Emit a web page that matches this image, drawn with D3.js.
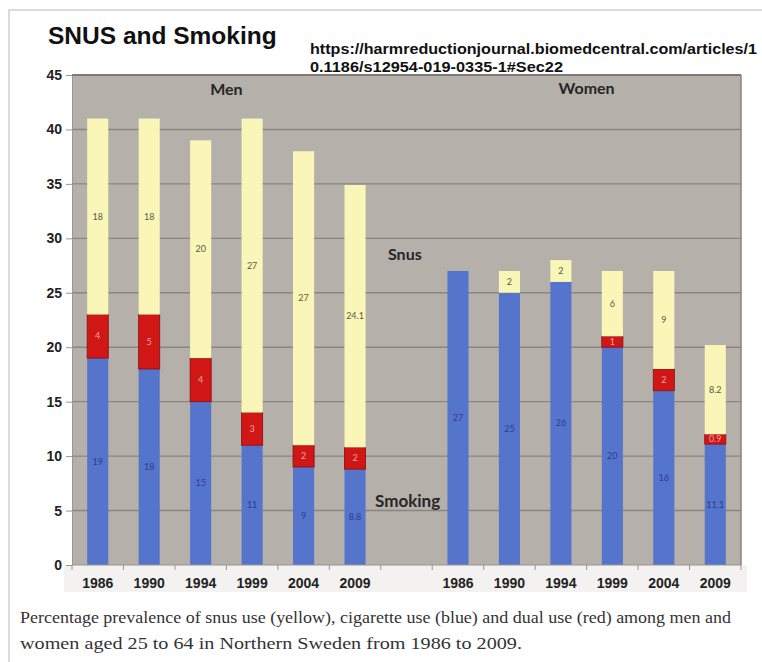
<!DOCTYPE html>
<html>
<head>
<meta charset="utf-8">
<script src="https://cdn.jsdelivr.net/npm/d3@7/dist/d3.min.js"></script>
<style>
  html, body { margin: 0; padding: 0; background: #ffffff; }
  svg { display: block; }
</style>
</head>
<body>
<svg id="chart" width="762" height="662"></svg>
<script>
// Survey years and population groups
const years = ["1986", "1990", "1994", "1999", "2004", "2009"];
const groups = ["Men", "Women"];

// Prevalence (%) per year: cigarette only, dual use, snus only
const menSmoking = [19, 18, 15, 11, 9, 8.8];
const menDual    = [4, 5, 4, 3, 2, 2];
const menSnus    = [18, 18, 20, 27, 27, 24.1];

const womenSmoking = [27, 25, 26, 20, 16, 11.1];
const womenDual    = [0, 0, 0, 1, 2, 0.9];
const womenSnus    = [0, 2, 2, 6, 9, 8.2];

const yTicks = [0, 5, 10, 15, 20, 25, 30, 35, 40, 45];

const seriesKeys = ["smoking", "dual", "snus"];
const fills  = { smoking: "#5575cc", dual: "#d11616", snus: "#f9f6b8" };
const labelColors = { smoking: "#2c3c8c", dual: "#f3a3a3", snus: "#5a5a44" };

// Build rows: men years, an empty spacer slot, women years
const rows = [];
years.forEach((yr, i) => rows.push({ key: "M" + yr, year: yr, smoking: menSmoking[i], dual: menDual[i], snus: menSnus[i] }));
rows.push({ key: "gap", year: "", smoking: 0, dual: 0, snus: 0 });
years.forEach((yr, i) => rows.push({ key: "W" + yr, year: yr, smoking: womenSmoking[i], dual: womenDual[i], snus: womenSnus[i] }));

const svg = d3.select("#chart");
const plotLeft = 72, plotRight = 741, plotTop = 75, plotBottom = 565;

const x = d3.scaleBand().domain(rows.map(d => d.key)).range([plotLeft, plotRight])
  .paddingInner(0.59).paddingOuter(0.295);
const y = d3.scaleLinear().domain([0, 45]).range([plotBottom, plotTop]);

// Page frame
svg.append("path").attr("d", "M9,662 V10 H762")
  .attr("fill", "none").attr("stroke", "#dcdcdc").attr("stroke-width", 2);

// Light band under the category axis
svg.append("rect").attr("x", plotLeft - 8).attr("y", plotBottom).attr("width", plotRight - plotLeft + 14).attr("height", 27)
  .attr("fill", "#f3f2f1");

// Plot background
svg.append("rect").attr("x", plotLeft).attr("y", plotTop).attr("width", plotRight - plotLeft).attr("height", plotBottom - plotTop)
  .attr("fill", "#b5b0aa");

// Gridlines
svg.append("g").selectAll("line").data(yTicks.filter(t => t > 0)).join("line")
  .attr("x1", plotLeft).attr("x2", plotRight)
  .attr("y1", d => y(d)).attr("y2", d => y(d))
  .attr("stroke", d => d === 45 ? "#7d7975" : "#8a8580").attr("stroke-width", d => d === 45 ? 2 : 1.4);

// Right border
svg.append("line").attr("x1", plotRight).attr("x2", plotRight).attr("y1", plotTop).attr("y2", plotBottom)
  .attr("stroke", "#8a8580").attr("stroke-width", 1.5);

// Stacked bars
const stacked = d3.stack().keys(seriesKeys)(rows);
const layer = svg.append("g").selectAll("g").data(stacked).join("g")
  .attr("fill", d => fills[d.key]);

layer.selectAll("rect").data(d => d.map(p => ({ p, key: d.key })).filter(o => o.p[1] - o.p[0] > 0 && o.p.data.key !== "gap"))
  .join("rect")
  .attr("x", o => x(o.p.data.key))
  .attr("width", x.bandwidth())
  .attr("y", o => y(o.p[1]))
  .attr("height", o => y(o.p[0]) - y(o.p[1]))
  .attr("stroke", o => o.key === "dual" ? "#8a0d0d" : "none")
  .attr("stroke-width", o => o.key === "dual" ? 0.8 : 0);

// Segment value labels
const valLabels = svg.append("g")
  .attr("font-family", "Lato, 'Open Sans', sans-serif")
  .attr("font-size", 9).attr("text-anchor", "middle");
stacked.forEach(s => {
  s.forEach(p => {
    const v = p[1] - p[0];
    if (v <= 0 || p.data.key === "gap") return;
    valLabels.append("text")
      .attr("x", x(p.data.key) + x.bandwidth() / 2)
      .attr("y", y((p[0] + p[1]) / 2) + 3)
      .attr("fill", labelColors[s.key])
      .text(p.data[s.key]);
  });
});

// Y axis
const yAxis = d3.axisLeft(y).tickValues(yTicks).tickSize(6).tickPadding(4);
const yg = svg.append("g").attr("transform", `translate(${plotLeft},0)`).call(yAxis);
yg.select(".domain").attr("stroke", "#9a9691");
yg.selectAll(".tick line").attr("stroke", "#9a9691");
yg.selectAll(".tick text")
  .attr("font-family", "'Liberation Sans', Arial, sans-serif")
  .attr("font-weight", "bold").attr("font-size", 14).attr("fill", "#222");

// X axis with boundary ticks
const xg = svg.append("g");
xg.append("line").attr("x1", plotLeft).attr("x2", plotRight).attr("y1", plotBottom).attr("y2", plotBottom)
  .attr("stroke", "#9a9691").attr("stroke-width", 1);
const step = x.step();
xg.selectAll("line.b").data(d3.range(rows.length + 1)).join("line").attr("class", "b")
  .attr("x1", i => plotLeft + i * step).attr("x2", i => plotLeft + i * step)
  .attr("y1", plotBottom).attr("y2", plotBottom + 5)
  .attr("stroke", "#9a9691");
xg.selectAll("text").data(rows.filter(d => d.key !== "gap")).join("text")
  .attr("x", d => x(d.key) + x.bandwidth() / 2)
  .attr("y", plotBottom + 23)
  .attr("text-anchor", "middle")
  .attr("font-family", "'Liberation Sans', Arial, sans-serif")
  .attr("font-weight", "bold").attr("font-size", 14).attr("fill", "#222")
  .text(d => d.year);

// Group and series annotations
const ann = svg.append("g")
  .attr("font-family", "Lato, 'Open Sans', sans-serif")
  .attr("font-weight", "bold").attr("fill", "#262626");
const menMid = (x("M1986") + x("M2009") + x.bandwidth()) / 2;
const womenMid = (x("W1986") + x("W2009") + x.bandwidth()) / 2;
ann.append("text").attr("x", menMid).attr("y", 95).attr("text-anchor", "middle").attr("font-size", 16).text(groups[0]);
ann.append("text").attr("x", womenMid).attr("y", 94).attr("text-anchor", "middle").attr("font-size", 16).text(groups[1]);
ann.append("text").attr("x", 388).attr("y", 260).attr("font-size", 16).text("Snus");
ann.append("text").attr("x", 375).attr("y", 507).attr("font-size", 17).text("Smoking");

// Title and source link
svg.append("text").attr("x", 48).attr("y", 44)
  .attr("font-family", "'Liberation Sans', Arial, sans-serif")
  .attr("font-weight", "bold").attr("font-size", 24.5).attr("fill", "#111")
  .text("SNUS and Smoking");
const url = svg.append("g")
  .attr("font-family", "'Liberation Sans', Arial, sans-serif")
  .attr("font-weight", "bold").attr("font-size", 15.5).attr("fill", "#111");
url.append("text").attr("x", 310).attr("y", 54)
  .attr("textLength", 447).attr("lengthAdjust", "spacingAndGlyphs")
  .text("https://harmreductionjournal.biomedcentral.com/articles/1");
url.append("text").attr("x", 310).attr("y", 72)
  .attr("textLength", 253).attr("lengthAdjust", "spacingAndGlyphs")
  .text("0.1186/s12954-019-0335-1#Sec22");

// Caption
const cap = svg.append("g")
  .attr("font-family", "'Liberation Serif', 'DejaVu Serif', serif")
  .attr("font-size", 16.5).attr("fill", "#333");
cap.append("text").attr("x", 20).attr("y", 623)
  .attr("textLength", 711).attr("lengthAdjust", "spacingAndGlyphs")
  .text("Percentage prevalence of snus use (yellow), cigarette use (blue) and dual use (red) among men and");
cap.append("text").attr("x", 20).attr("y", 649)
  .attr("textLength", 502).attr("lengthAdjust", "spacingAndGlyphs")
  .text("women aged 25 to 64 in Northern Sweden from 1986 to 2009.");
</script>
</body>
</html>
